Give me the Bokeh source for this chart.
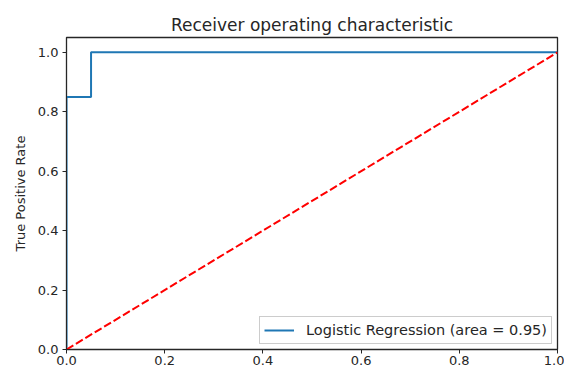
from bokeh.plotting import figure
from bokeh.models import Range1d, Legend, LegendItem, FixedTicker
from bokeh.embed import file_html
from bokeh.resources import INLINE

# ROC curve points (false positive rate, true positive rate)
fpr = [0.0, 0.0, 0.05, 0.05, 1.0]
tpr = [0.0, 0.85, 0.85, 1.0, 1.0]
chance_x = [0.0, 1.0]
chance_y = [0.0, 1.0]
roc_auc = 0.95
ticks = [0.0, 0.2, 0.4, 0.6, 0.8, 1.0]
tick_labels = {t: f"{t:.1f}" for t in ticks}

FONT = "DejaVu Sans"
INK = "#262626"

p = figure(width=564, height=367, output_backend="svg", toolbar_location=None,
           x_range=Range1d(0.0, 1.0), y_range=Range1d(0.0, 1.05),
           min_border_left=66, min_border_right=7, min_border_top=37,
           min_border_bottom=8, title="Receiver operating characteristic")

p.title.align = "center"
p.title.text_font = FONT
p.title.text_font_size = "17px"
p.title.text_font_style = "normal"
p.title.text_color = INK
p.title.offset = 0
p.title.standoff = 6

p.outline_line_color = INK
p.outline_line_width = 1.3
p.grid.visible = False
p.background_fill_color = "white"
p.border_fill_color = "white"

for ax in (p.xaxis[0], p.yaxis[0]):
    ax.ticker = FixedTicker(ticks=ticks)
    ax.major_label_overrides = tick_labels
    ax.minor_tick_line_color = None
    ax.major_tick_in = 0
    ax.major_tick_out = 4
    ax.major_tick_line_color = INK
    ax.axis_line_color = INK
    ax.major_label_text_font = FONT
    ax.major_label_text_font_size = "13px"
    ax.major_label_text_color = INK
    ax.major_label_standoff = 4

p.xaxis.major_label_standoff = 2

p.yaxis.axis_label = "True Positive Rate"
p.yaxis.axis_label_text_font = FONT
p.yaxis.axis_label_text_font_size = "13px"
p.yaxis.axis_label_text_font_style = "normal"
p.yaxis.axis_label_text_color = INK
p.yaxis.axis_label_standoff = 7

roc = p.line(fpr, tpr, line_color="#1f77b4", line_width=2)
p.line(chance_x, chance_y, line_color="#ff0000", line_width=2, line_dash="8 3")

legend = Legend(items=[LegendItem(label=f"Logistic Regression (area = {roc_auc:.2f})",
                                  renderers=[roc])],
                location="bottom_right")
legend.label_text_font = FONT
legend.label_text_font_size = "14.5px"
legend.label_text_color = INK
legend.label_height = 18
legend.glyph_height = 18
legend.border_line_color = "#cccccc"
legend.border_line_alpha = 1.0
legend.background_fill_alpha = 0.85
legend.glyph_width = 30
legend.label_standoff = 12
legend.padding = 4
legend.margin = 5
legend.spacing = 0
p.add_layout(legend)

open("out.html", "w").write(file_html(p, INLINE))
